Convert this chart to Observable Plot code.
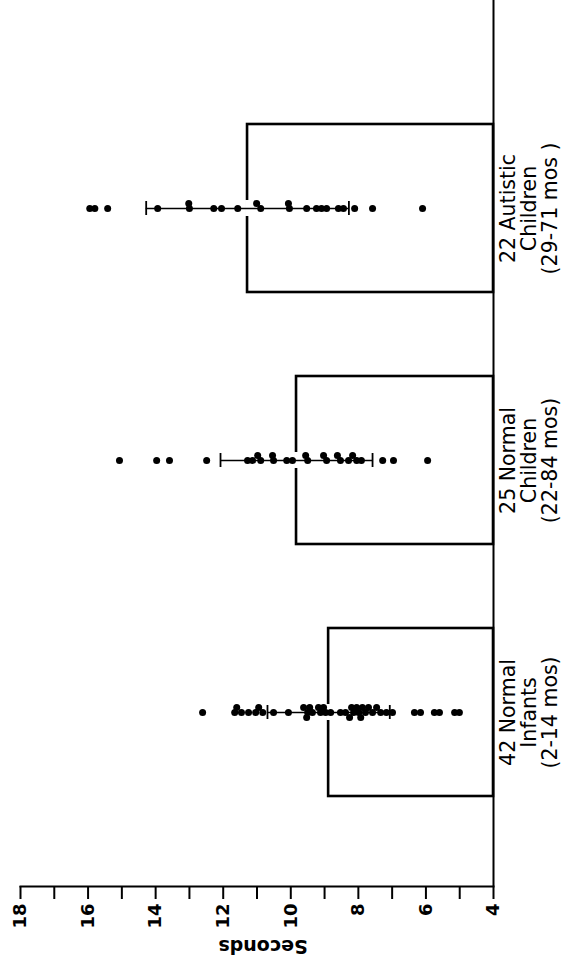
<!DOCTYPE html>
<html>
<head>
<meta charset="utf-8">
<script src="https://cdn.jsdelivr.net/npm/d3@7"></script>
<script src="https://cdn.jsdelivr.net/npm/@observablehq/plot@0.6"></script>
<style>
  html, body { margin: 0; padding: 0; background: #fff; }
  #chart svg { display: block; }
</style>
</head>
<body>
<div id="chart"></div>
<script>
// ---- data ----
const groups = ["Autistic", "Children", "Infants"];
const groupLabels = [
  "22 Autistic\nChildren\n(29-71 mos )",
  "25 Normal\nChildren\n(22-84 mos)",
  "42 Normal\nInfants\n(2-14 mos)"
];
const means = [11.28, 9.83, 8.88];
const sds = [3.0, 2.25, 1.81];

const autisticValues = [15.95, 15.80, 15.42, 13.94, 13.02, 13.00, 12.28, 12.05, 11.57, 11.01,
  10.89, 10.07, 10.04, 9.53, 9.24, 9.09, 8.94, 8.59, 8.44, 8.11, 7.58, 6.10];
const childrenValues = [15.07, 13.97, 13.59, 12.49, 11.28, 11.13, 10.98, 10.89, 10.54, 10.51,
  10.12, 9.95, 9.56, 9.50, 9.03, 8.94, 8.62, 8.53, 8.29, 8.17, 8.05, 7.91, 7.28, 6.96, 5.95];
const infantValues = [12.61, 11.66, 11.60, 11.46, 11.25, 11.04, 10.95, 10.83, 10.51, 10.07,
  9.62, 9.53, 9.50, 9.44, 9.36, 9.18, 9.12, 9.03, 8.97, 8.82, 8.53, 8.38, 8.26, 8.20, 8.14,
  8.05, 7.99, 7.93, 7.88, 7.79, 7.70, 7.58, 7.46, 7.34, 7.17, 6.99, 6.34, 6.16, 5.75, 5.60,
  5.15, 5.01];

const tickValues = [4, 5, 6, 7, 8, 9, 10, 11, 12, 13, 14, 15, 16, 17, 18];
const axisDomain = [18, 4];

// ---- derived tables ----
const stats = groups.map((g, i) => ({
  group: g, label: groupLabels[i], mean: means[i], lo: means[i] - sds[i], hi: means[i] + sds[i]
}));

// stack near-coincident dots into small lanes (0, above, below)
function laneDots(values, group) {
  const placed = {"0": [], "-1": [], "1": []};
  return values.slice().sort((a, b) => a - b).map(v => {
    let lane = 0;
    for (const l of [0, -1, 1]) {
      if (placed[l].every(u => Math.abs(u - v) >= 0.14)) { lane = l; break; }
    }
    placed[lane].push(v);
    return {group, value: v, lane};
  });
}
const dots = [
  ...laneDots(autisticValues, "Autistic"),
  ...laneDots(childrenValues, "Children"),
  ...laneDots(infantValues, "Infants")
];

const font = "'DejaVu Sans', 'Liberation Sans', sans-serif";

const chart = Plot.plot({
  width: 567,
  height: 956,
  marginTop: 0,
  marginBottom: 70,
  marginLeft: 20,
  marginRight: 74,
  style: {fontFamily: font, background: "#fff", color: "#000"},
  x: {domain: axisDomain, label: null},
  y: {domain: groups, paddingInner: 0.332, paddingOuter: 0.417, align: 0.58, axis: null},
  marks: [
    Plot.ruleX([4], {stroke: "#000", strokeWidth: 2}),
    Plot.frame({anchor: "bottom", stroke: "#000", strokeWidth: 2}),
    Plot.rectX(stats, {y: "group", x1: 4, x2: "mean", fill: "none", stroke: "#000", strokeWidth: 2.6}),
    // small gap in the bar edge where the dot row crosses it
    Plot.tickX(stats, {x: "mean", y: "group", stroke: "#fff", strokeWidth: 5, insetTop: 76, insetBottom: 76}),
    Plot.ruleY(stats, {y: "group", x1: "lo", x2: "hi", stroke: "#000", strokeWidth: 1.6}),
    Plot.tickX(stats, {x: "lo", y: "group", stroke: "#000", strokeWidth: 1.8, insetTop: 77, insetBottom: 77}),
    Plot.tickX(stats, {x: "hi", y: "group", stroke: "#000", strokeWidth: 1.8, insetTop: 77, insetBottom: 77}),
    ...[-1, 0, 1].map(l => Plot.dot(dots.filter(d => d.lane === l), {
      x: "value", y: "group", r: 3.5, fill: "#000", stroke: "none", dy: l * 5
    })),
    Plot.axisX({
      ticks: tickValues, anchor: "bottom", tickSize: 13, tickPadding: 4, strokeWidth: 2,
      tickRotate: -90, textAnchor: "end", lineAnchor: "middle",
      tickFormat: d => (d % 2 === 0 ? String(d) : ""),
      fontSize: 18, fontWeight: "bold", label: null
    }),
    Plot.text(["Seconds"], {
      text: d => d, frameAnchor: "bottom", dy: 53, dx: 6, rotate: 180,
      fontSize: 19, fontWeight: "bold", letterSpacing: 1.5, fill: "#000"
    }),
    Plot.text(stats, {
      y: "group", text: "label", frameAnchor: "right", dx: 7, rotate: -90,
      lineAnchor: "top", textAnchor: "middle", fontSize: 20.5, lineHeight: 1.02,
      letterSpacing: 1.6, fill: "#000"
    })
  ]
});
document.getElementById("chart").appendChild(chart);
</script>
</body>
</html>
